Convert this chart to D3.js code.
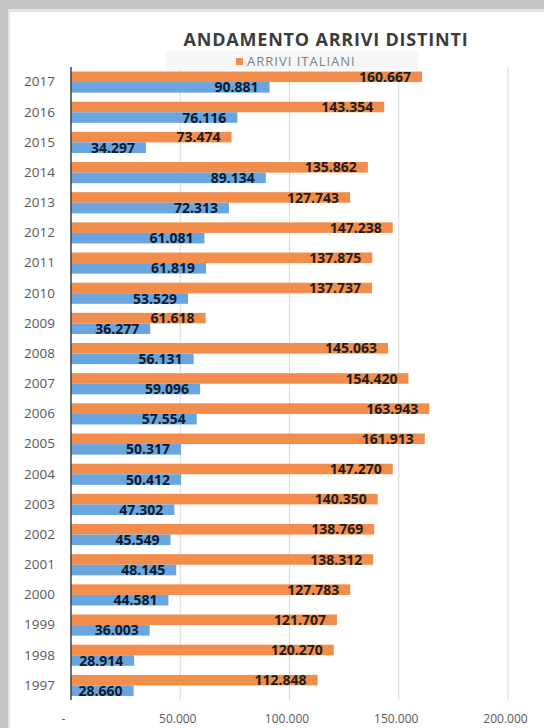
<!DOCTYPE html>
<html>
<head>
<meta charset="utf-8">
<script src="https://cdn.jsdelivr.net/npm/d3@7"></script>
<style>
  html, body { margin: 0; padding: 0; background: #c6c6c6; }
  svg { display: block; }
</style>
</head>
<body>
<svg id="chart" width="544" height="728"></svg>
<script>
// ---- data ----
const years = ["2017","2016","2015","2014","2013","2012","2011","2010","2009","2008","2007","2006","2005","2004","2003","2002","2001","2000","1999","1998","1997"];
const italiani = [160667,143354,73474,135862,127743,147238,137875,137737,61618,145063,154420,163943,161913,147270,140350,138769,138312,127783,121707,120270,112848];
const stranieri = [90881,76116,34297,89134,72313,61081,61819,53529,36277,56131,59096,57554,50317,50412,47302,45549,48145,44581,36003,28914,28660];
const xTicks = [0,50000,100000,150000,200000];
const seriesNames = ["ARRIVI ITALIANI","ARRIVI STRANIERI"];
const titleText = "ANDAMENTO ARRIVI DISTINTI";

const colors = ["#F28D4C", "#69A5DF"];
const fontFam = "'Open Sans', 'DejaVu Sans', sans-serif";

const rows = years.map((y, i) => ({ year: y, values: [italiani[i], stranieri[i]] }));

const svg = d3.select("#chart");
const W = 544, H = 728;

// background frame (photographed screen)
svg.append("rect").attr("x", 0).attr("y", 0).attr("width", W).attr("height", H).attr("fill", "#c6c6c6");
svg.append("rect").attr("x", 8).attr("y", 9).attr("width", W - 8).attr("height", H - 9).attr("fill", "#e4e4e4");
svg.append("rect").attr("x", 10).attr("y", 12).attr("width", W - 10).attr("height", H - 12).attr("fill", "#ffffff");

const x = d3.scaleLinear().domain([0, 200000]).range([71, 508]);
const y = d3.scaleBand().domain(years).range([67, 700.5]).paddingInner(0.3).paddingOuter(0.15);
const y1 = d3.scaleBand().domain([0, 1]).range([0, y.bandwidth()]).padding(0);

const loc = d3.formatLocale({ decimal: ",", thousands: ".", grouping: [3], currency: ["€", ""] });
const fmt = loc.format(",d");

// gridlines
svg.append("g")
  .selectAll("line")
  .data(xTicks.filter(d => d > 0))
  .join("line")
  .attr("x1", d => x(d)).attr("x2", d => x(d))
  .attr("y1", 67).attr("y2", 700)
  .attr("stroke", "#d9d9d9").attr("stroke-width", 1);

// title
svg.append("text")
  .attr("x", 326).attr("y", 46)
  .attr("text-anchor", "middle")
  .attr("font-family", fontFam)
  .attr("font-weight", "bold")
  .attr("font-size", 18)
  .attr("letter-spacing", 0.8)
  .attr("fill", "#3c3c3c")
  .text(titleText);

// legend
svg.append("rect").attr("x", 166).attr("y", 51).attr("width", 252).attr("height", 19).attr("fill", "#f6f6f6");
svg.append("rect").attr("x", 236).attr("y", 58).attr("width", 7).attr("height", 7).attr("fill", colors[0]);
svg.append("text")
  .attr("x", 247).attr("y", 65.5)
  .attr("font-family", fontFam)
  .attr("font-size", 13)
  .attr("letter-spacing", 1)
  .attr("fill", "#7f7f7f")
  .text(seriesNames[0]);

// bars
const groups = svg.append("g").selectAll("g")
  .data(rows)
  .join("g")
  .attr("transform", d => `translate(0,${y(d.year)})`);

groups.selectAll("rect")
  .data(d => d.values.map((v, k) => ({ v, k })))
  .join("rect")
  .attr("x", x(0))
  .attr("y", d => y1(d.k))
  .attr("width", d => x(d.v) - x(0))
  .attr("height", y1.bandwidth())
  .attr("fill", d => colors[d.k]);

groups.selectAll("text.val")
  .data(d => d.values.map((v, k) => ({ v, k })))
  .join("text")
  .attr("class", "val")
  .attr("x", d => x(d.v) - 11)
  .attr("y", d => y1(d.k) + y1.bandwidth() / 2)
  .attr("dy", "0.36em")
  .attr("text-anchor", "end")
  .attr("font-family", fontFam)
  .attr("font-weight", "bold")
  .attr("font-size", 14)
  .attr("fill", d => d.k === 0 ? "#1e1e1e" : "#0f1a2a")
  .text(d => fmt(d.v));

// y axis
const yAxis = svg.append("g")
  .attr("transform", `translate(${x(0)},0)`)
  .call(d3.axisLeft(y).tickSize(0).tickPadding(16));
yAxis.select(".domain").attr("stroke", "#404040").attr("stroke-width", 1.5)
  .attr("d", `M0,67V700`);
yAxis.selectAll("text")
  .attr("font-family", fontFam)
  .attr("font-size", 13.5)
  .attr("fill", "#595959");

// x axis
const xAxis = svg.append("g")
  .attr("transform", `translate(0,700)`)
  .call(d3.axisBottom(x).tickValues(xTicks).tickSize(0).tickPadding(14)
    .tickFormat(d => d === 0 ? "-" : fmt(d)));
xAxis.select(".domain").remove();
xAxis.selectAll("text")
  .attr("font-family", fontFam)
  .attr("font-size", 12)
  .attr("fill", "#595959")
  .attr("dx", d => d === 0 ? -8 : -3);
</script>
</body>
</html>
